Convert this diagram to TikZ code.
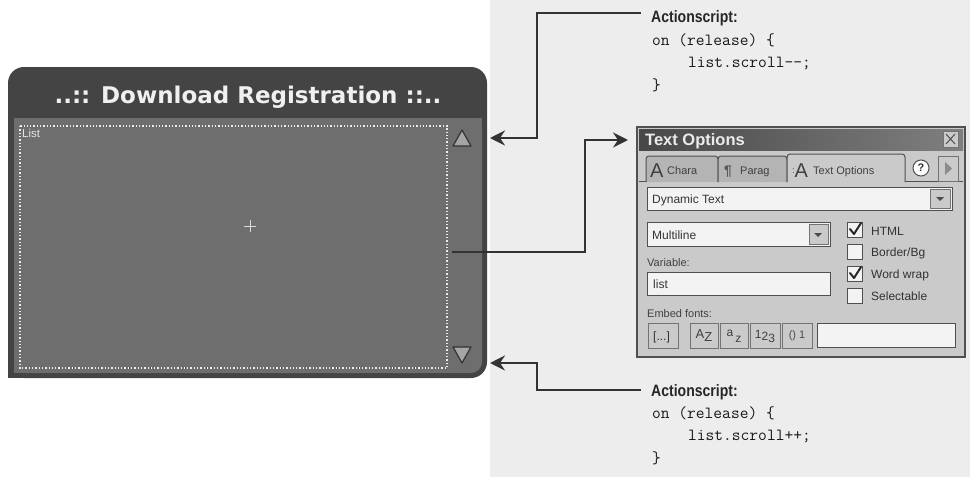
\documentclass[tikz,border=0pt]{standalone}
\usepackage{fontspec}
\setmainfont{Liberation Sans}
\newfontfamily\titlefont{DejaVu Sans}
\newfontfamily\narrowfont{Liberation Sans}[FakeStretch=0.85]
\usetikzlibrary{arrows.meta,shapes.geometric}

\definecolor{frameC}{HTML}{444444}
\definecolor{bodyC}{HTML}{6E6E6E}
\definecolor{btnC}{HTML}{A5A5A5}
\definecolor{lineC}{HTML}{333333}
\definecolor{pageC}{HTML}{EDEDED}
\definecolor{uiC}{HTML}{CACACA}
\definecolor{uiDark}{HTML}{505050}
\definecolor{tabC}{HTML}{B4B4B4}
\definecolor{fieldC}{HTML}{F3F3F3}

\tikzset{
  conn/.style={draw=lineC, line width=2.6pt,
    -{Stealth[length=15pt,width=15pt,inset=5pt]}},
  codeline/.style={font=\ttfamily\fontsize{17}{20}\selectfont,
    anchor=base west, inner sep=0pt, text=black!90},
  heading/.style={font=\narrowfont\bfseries\fontsize{16.5}{19}\selectfont,
    anchor=base west, inner sep=0pt, text=black!85},
  uitext/.style={font=\fontsize{12}{14}\selectfont, anchor=base west,
    inner sep=0pt, text=black!80},
  smalltext/.style={font=\fontsize{11}{13}\selectfont, anchor=base west,
    inner sep=0pt, text=black!75},
  field/.style={fill=fieldC, draw=uiDark, line width=1pt},
  uibutton/.style={fill=uiC, draw=uiDark!80, line width=0.8pt},
  tabshape/.style={fill=tabC, draw=uiDark, line width=1pt, rounded corners=3pt},
  checkbox/.style={fill=fieldC, draw=uiDark, line width=1pt},
  tick/.style={draw=black!85, line width=2pt, line cap=round, line join=round},
  arrowbtn/.style={fill=btnC, draw=lineC, line width=1.2pt, line join=round},
}

\begin{document}
\begin{tikzpicture}[x=1pt, y=-1pt]
\useasboundingbox (0,0) rectangle (970,477);
\fill[white] (0,0) rectangle (970,477);
\fill[pageC] (490,0) rectangle (970,477);

% ---------- list panel ----------
\fill[frameC, rounded corners=16pt] (8,67) rectangle (487,378);
\fill[frameC] (8,340) rectangle (40,378);
\fill[bodyC, rounded corners=11pt] (14,118) rectangle (482,373);
\fill[bodyC] (14,118) rectangle (40,140);
\fill[bodyC] (460,118) rectangle (482,140);
\fill[bodyC] (14,340) rectangle (40,373);
\node[font=\titlefont\bfseries\fontsize{23}{26}\selectfont, text=white!94!black,
      anchor=base, inner sep=0pt] (title) at (248,103) {..:: Download Registration ::..};
\draw[white!85!gray, line width=1.3pt, dash pattern=on 1.3pt off 2pt]
  (20,126) rectangle (447,368);
\node[font=\fontsize{11.5}{13}\selectfont, text=white!80!gray, anchor=base west,
      inner sep=0pt] (listlabel) at (22,137) {List};
\draw[white!70!gray, line width=0.8pt] (244,226) -- (256,226) (250,220) -- (250,232);
\draw[arrowbtn] (453,146) -- (471,146) -- (462,130) -- cycle;
\draw[arrowbtn] (453,347) -- (471,347) -- (462,363) -- cycle;

% ---------- connector end points ----------
\coordinate (upbtn) at (490,138);
\coordinate (downbtn) at (490,363);
\coordinate (listfield) at (452,252);
\coordinate (optpanel) at (628,140);
\coordinate (topcap) at (641,13);
\coordinate (topbend) at (537,138);
\coordinate (botcap) at (641,390);
\coordinate (botbend) at (537,363);
\coordinate (midbend) at (585,140);

\draw[conn] (topcap) -| (topbend) -- (upbtn);
\draw[conn] (botcap) -| (botbend) -- (downbtn);
\draw[conn] (listfield) -| (midbend) -- (optpanel);

% ---------- button scripts ----------
\node[heading] (tophead) at (651,22) {Actionscript:};
\node[codeline] (topl1) at (652,45) {on (release) \{};
\node[codeline] (topl2) at (688,67) {list.scroll--;};
\node[codeline] (topl3) at (652,90) {\}};
\node[heading] (bothead) at (651,396) {Actionscript:};
\node[codeline] (botl1) at (652,418) {on (release) \{};
\node[codeline] (botl2) at (688,440) {list.scroll++;};
\node[codeline] (botl3) at (652,463) {\}};

% ---------- Text Options panel ----------
\fill[uiC] (637,127) rectangle (965,357);
\draw[uiDark, line width=1.5pt] (637,127) rectangle (965,357);
\shade[left color=black!72, right color=black!50] (639,129) rectangle (963,150);
\node[font=\bfseries\fontsize{16.5}{19}\selectfont, text=white!92!black,
      anchor=base west, inner sep=0pt] (optitle) at (645,145) {Text Options};
\draw[uibutton] (943,131) rectangle (958,147);
\draw[uiDark, line width=1pt] (946,134) -- (955,144) (955,134) -- (946,144);

% tabs
\draw[uiDark, line width=1pt] (639,181) -- (963,181);
\draw[tabshape] (646,182) -- (646,156) -- (718,156) -- (718,182);
\draw[tabshape] (718,182) -- (718,156) -- (787,156) -- (787,182);
\draw[tabshape, fill=uiC] (787,182) -- (787,154) -- (905,154) -- (905,182);
\fill[uiC] (788,179) rectangle (904,183);
\node[font=\fontsize{20}{22}\selectfont, text=black!75, anchor=base west,
      inner sep=0pt] (tabAglyph) at (650,177) {A};
\node[smalltext] (tabchara) at (667,174) {Chara};
\node[font=\bfseries\fontsize{14}{16}\selectfont, text=black!65, anchor=base west,
      inner sep=0pt] (tabpilcrow) at (724,175) {¶};
\node[smalltext] (tabparag) at (740,174) {Parag};
\node[font=\fontsize{20}{22}\selectfont, text=black!75, anchor=base west,
      inner sep=0pt] (tabTglyph) at (792,177) {{\fontsize{9}{9}\selectfont\raisebox{4pt}{:}}A};
\node[smalltext] (tabtext) at (813,174) {Text Options};
\draw[fill=white, draw=uiDark, line width=1pt] (921,168) circle (8);
\node[font=\bfseries\fontsize{11}{12}\selectfont, text=black!80, inner sep=0pt]
  (helpmark) at (921,168) {?};
\draw[uibutton] (938,156) rectangle (958,181);
\fill[black!45] (945,162) -- (952,168.5) -- (945,175) -- cycle;

% text type drop-down
\draw[field] (647,187) rectangle (952,210);
\draw[uibutton] (930,189) rectangle (950,208);
\fill[black!70] (936,197) -- (944,197) -- (940,201) -- cycle;
\node[uitext] (typevalue) at (652,203) {Dynamic Text};

% line type drop-down
\draw[field] (647,222) rectangle (830,246);
\draw[uibutton] (809,224) rectangle (828,244);
\fill[black!70] (814,233) -- (822,233) -- (818,237) -- cycle;
\node[uitext] (linevalue) at (652,239) {Multiline};

% variable
\node[smalltext] (varlabel) at (647,266) {Variable:};
\draw[field] (647,272) rectangle (830,295);
\node[uitext] (varvalue) at (653,288) {list};

% check boxes
\draw[checkbox] (847,222) rectangle (862,237);
\draw[tick] (850,229) -- (854,234) -- (861,223);
\node[uitext] (chkhtml) at (871,235) {HTML};
\draw[checkbox] (847,244) rectangle (862,259);
\node[uitext] (chkborder) at (871,256) {Border/Bg};
\draw[checkbox] (847,266) rectangle (862,281);
\draw[tick] (850,273) -- (854,278) -- (861,267);
\node[uitext] (chkwrap) at (871,278) {Word wrap};
\draw[checkbox] (847,288) rectangle (862,303);
\node[uitext] (chksel) at (871,300) {Selectable};

% embed fonts
\node[smalltext] (embedlabel) at (647,317) {Embed fonts:};
\draw[uibutton] (648,323) rectangle (678,348);
\node[uitext] (btnall) at (653,340) {[...]};
\draw[uibutton] (690,323) rectangle (718,348);
\node[font=\fontsize{13}{14}\selectfont, text=black!75, inner sep=0pt]
  (btnupper) at (704,336) {A\raisebox{-3pt}{Z}};
\draw[uibutton] (720,323) rectangle (748,348);
\node[font=\fontsize{12}{14}\selectfont, text=black!75, inner sep=0pt]
  (btnlower) at (734,336) {\raisebox{3pt}{a}\,\raisebox{-3pt}{z}};
\draw[uibutton] (750,323) rectangle (780,348);
\node[font=\fontsize{12}{14}\selectfont, text=black!75, inner sep=0pt]
  (btndigits) at (765,336) {\raisebox{2pt}{1}2\raisebox{-2pt}{3}};
\draw[uibutton] (782,323) rectangle (812,348);
\node[font=\fontsize{11}{13}\selectfont, text=black!70, inner sep=0pt]
  (btnpunct) at (797,336) {() 1};
\draw[field] (817,323) rectangle (955,347);
\end{tikzpicture}
\end{document}
